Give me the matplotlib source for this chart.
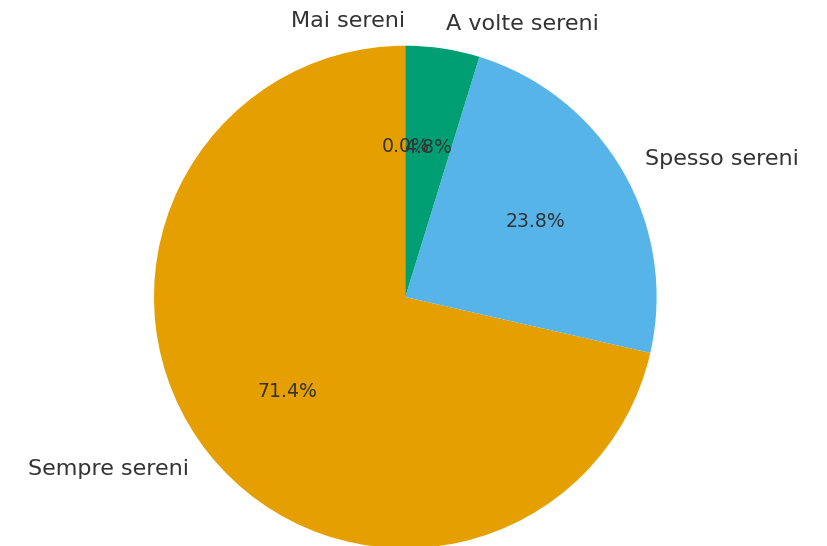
import matplotlib
matplotlib.use("Agg")
import matplotlib.pyplot as plt

labels = ['Sempre sereni', 'Spesso sereni', 'A volte sereni', 'Mai sereni']
counts = [15, 5, 1, 0]
colors = ['#E69F00', '#56B4E9', '#009E73', '#F0E442']

fig = plt.figure(figsize=(8.28, 5.46), dpi=100)
ax = fig.add_axes([0, 0, 1, 1])

wedges, texts, autotexts = ax.pie(counts, labels=labels, colors=colors,
                                  autopct='%1.1f%%', startangle=90,
                                  textprops={'color': '#333333'})
for t in texts:
    t.set_fontsize(16)
for t in autotexts:
    t.set_fontsize(13.6)

# zero slice label sits at the top, right aligned like the original
texts[3].set_horizontalalignment('right')

# place the pie: centre at (405.3, 297) px from top-left, radius 251.3 px
r = 251.3
cx, cy = 405.3, 297.0
ax.set_aspect('auto')
ax.set_xlim(-cx / r, (828 - cx) / r)
ax.set_ylim(-(546 - cy) / r, cy / r)
ax.axis('off')

fig.savefig('out.png', dpi=100)
